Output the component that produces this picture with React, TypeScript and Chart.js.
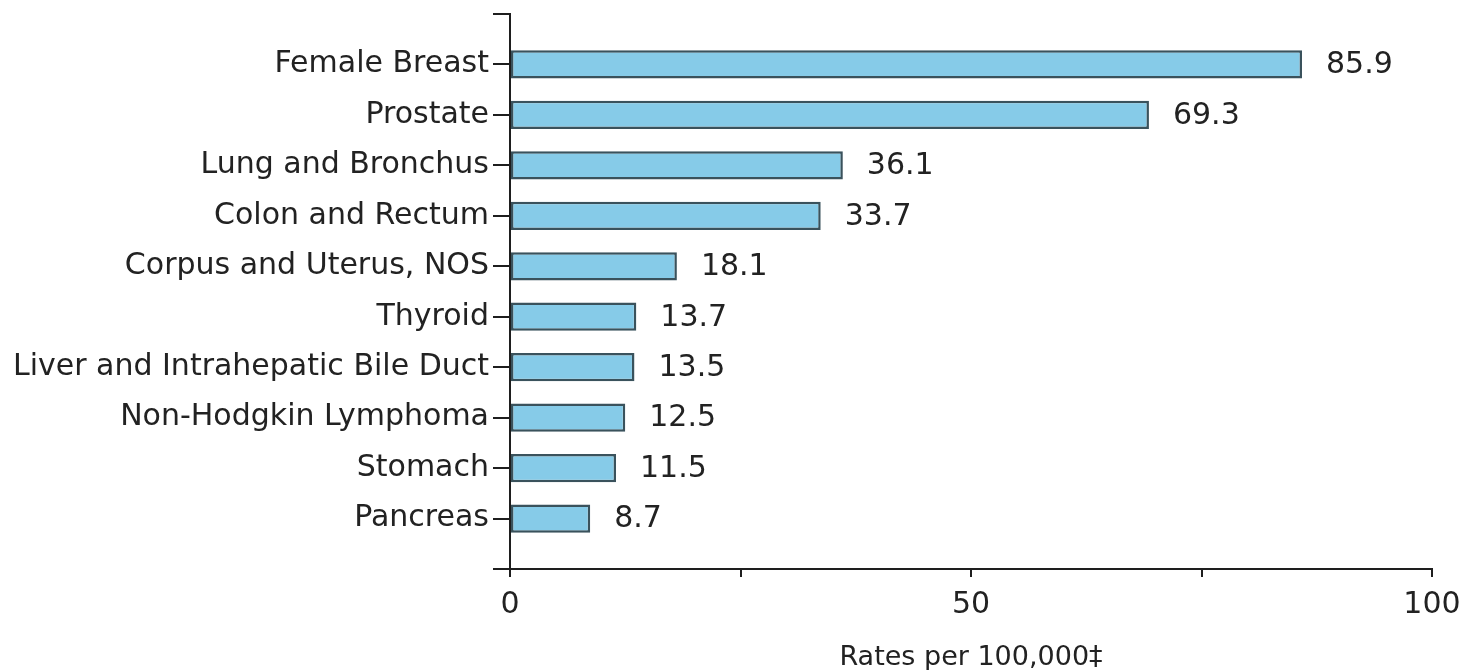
import React, { useEffect, useRef } from "react";
import { Chart, registerables } from "chart.js";

Chart.register(...registerables);

const categories: string[] = [
  "Female Breast",
  "Prostate",
  "Lung and Bronchus",
  "Colon and Rectum",
  "Corpus and Uterus, NOS",
  "Thyroid",
  "Liver and Intrahepatic Bile Duct",
  "Non-Hodgkin Lymphoma",
  "Stomach",
  "Pancreas",
];

const rates: number[] = [85.9, 69.3, 36.1, 33.7, 18.1, 13.7, 13.5, 12.5, 11.5, 8.7];

const xTickLabels: number[] = [0, 50, 100];

const axisTitle = "Rates per 100,000\u2021";

const FONT = "'DejaVu Sans', Verdana, sans-serif";
const TEXT = "#222222";
const AXIS = "#1e1e1e";

const valueLabels = {
  id: "valueLabels",
  afterDatasetsDraw(chart: any) {
    const ctx = chart.ctx;
    const meta = chart.getDatasetMeta(0);
    ctx.save();
    ctx.font = `30px ${FONT}`;
    ctx.fillStyle = TEXT;
    ctx.textAlign = "left";
    ctx.textBaseline = "middle";
    meta.data.forEach((el: any, i: number) => {
      ctx.fillText(rates[i].toFixed(1), el.x + 24, el.y + 1);
    });
    ctx.restore();
  },
};

export default function App() {
  const ref = useRef<HTMLCanvasElement | null>(null);

  useEffect(() => {
    document.body.style.margin = "0";
    const canvas = ref.current;
    if (!canvas) return;
    const chart = new Chart(canvas, {
      type: "bar",
      data: {
        datasets: [
          {
            data: rates.map((v, i) => ({ x: v, y: i })) as any,
            backgroundColor: "#86cbe8",
            borderColor: "#3a525c",
            borderWidth: 2.5,
            borderSkipped: false,
            categoryPercentage: 1,
            barPercentage: 0.56,
          },
        ],
      },
      options: {
        indexAxis: "y",
        animation: false,
        responsive: false,
        maintainAspectRatio: false,
        layout: { padding: { top: 14, right: 30, left: 0, bottom: 0 } },
        plugins: {
          legend: { display: false },
          tooltip: { enabled: false },
          title: { display: false },
        },
        scales: {
          y: {
            type: "linear",
            reverse: true,
            offset: false,
            min: -1,
            max: 10,
            afterBuildTicks: (scale: any) => {
              const t: any[] = [];
              for (let v = -1; v <= categories.length; v++) t.push({ value: v });
              scale.ticks = t;
            },
            afterFit: (scale: any) => {
              scale.width = 510;
              scale.paddingTop = 0;
              scale.paddingBottom = 0;
            },
            ticks: {
              autoSkip: false,
              padding: 4,
              color: TEXT,
              font: { family: FONT, size: 30 },
              callback: (v: any) => {
                const n = Number(v);
                return Number.isInteger(n) && n >= 0 && n < categories.length ? categories[n] : "";
              },
            },
            grid: {
              offset: false,
              drawOnChartArea: false,
              drawTicks: true,
              tickLength: 17,
              lineWidth: 2,
              color: AXIS,
            },
            border: { display: true, color: AXIS, width: 2 },
          },
          x: {
            type: "linear",
            min: 0,
            max: 100,
            offset: false,
            afterFit: (scale: any) => {
              scale.height = 101;
              scale.paddingLeft = 0;
              scale.paddingRight = 0;
            },
            ticks: {
              stepSize: 25,
              padding: 10,
              color: TEXT,
              maxRotation: 0,
              font: { family: FONT, size: 30 },
              callback: (v: any) => (xTickLabels.includes(Number(v)) ? String(v) : ""),
            },
            grid: {
              offset: false,
              drawOnChartArea: false,
              drawTicks: true,
              tickLength: 8,
              lineWidth: 2,
              color: AXIS,
            },
            border: { display: true, color: AXIS, width: 2 },
            title: {
              display: true,
              text: axisTitle,
              color: TEXT,
              padding: { top: 0, bottom: 0 },
              font: { family: FONT, size: 27, lineHeight: 0.9 },
            },
          },
        },
      },
      plugins: [valueLabels],
    });
    return () => chart.destroy();
  }, []);

  return (
    <div style={{ width: 1462, height: 670, position: "relative", background: "#fff" }}>
      <canvas ref={ref} width={1462} height={670} style={{ display: "block" }} />
    </div>
  );
}
